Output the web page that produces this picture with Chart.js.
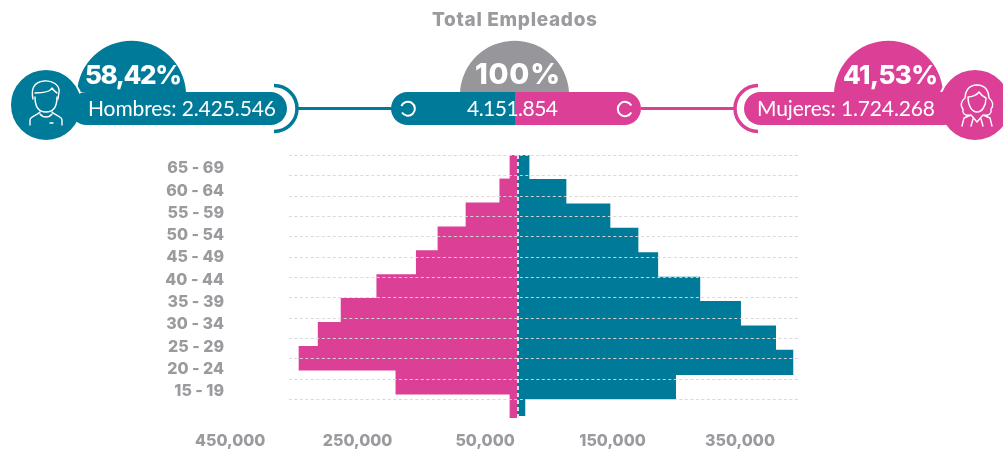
<!DOCTYPE html>
<html>
<head>
<meta charset="utf-8">
<title>Total Empleados</title>
<script src="https://cdn.jsdelivr.net/npm/chart.js@4"></script>
<style>
  html, body { margin: 0; padding: 0; background: #fff; overflow: hidden; }
  #wrap { position: relative; width: 1003px; height: 452px; }
  #header, #chart { position: absolute; left: 0; top: 0; }
  #header text { font-family: Lato, sans-serif; fill: #fff; }
  #header .pct { font-family: Inter, sans-serif; font-weight: 800; font-size: 26px; }
  #header .lbl { font-weight: 400; font-size: 21px; }
  #header .icon { fill: none; stroke: #fff; stroke-width: 1.4; stroke-linecap: round; stroke-linejoin: round; }
</style>
</head>
<body>
<div id="wrap">
  <canvas id="chart" width="1003" height="452"></canvas>
  <svg id="header" width="1003" height="150" viewBox="0 0 1003 150">
    <text x="432" y="26" textLength="165" style="fill:#9b9b9f;font-family:Inter,sans-serif;font-weight:800;font-size:19px">Total Empleados</text>

    <!-- left block -->
    <path d="M77 92 A54.6 54.6 0 0 1 186 92 Z" fill="#007a99"/>
    <circle cx="46" cy="105" r="36" fill="#007a99" stroke="#fff" stroke-width="2"/>
    <rect x="70" y="92" width="217" height="33" rx="16.5" fill="#007a99"/>
    <path d="M274 85.5 A23 23 0 0 1 274 131.5" fill="none" stroke="#007a99" stroke-width="3.5"/>
    <rect x="296" y="107" width="96" height="3" fill="#007a99"/>
    <g class="icon">
      <path d="M35 97 C35 108 40 112 46 112 C52 112 57 108 57 97"/>
      <path d="M33 99 C31 90 33 82 44 81 C52 80 60 85 59 92 L58 99"/>
      <path d="M35 93 C42 93 50 92 52 88 C54 91 56 92 57 93"/>
      <path d="M30 125 L30 120 C30 116 38 115 40 112 M62 125 L62 120 C62 116 54 115 52 112"/>
      <path d="M40 114 C43 118 49 118 52 114 M50 123 h3"/>
    </g>
    <text class="pct" x="85" y="84" textLength="97">58,42%</text>
    <text class="lbl" x="88" y="116" textLength="188">Hombres: 2.425.546</text>

    <!-- centre block -->
    <path d="M460 92 A54.6 54.6 0 0 1 569 92 Z" fill="#97979b"/>
    <path d="M515 92 H407.5 A16.5 16.5 0 0 0 407.5 125 H515 Z" fill="#007a99"/>
    <path d="M515 92 H624.5 A16.5 16.5 0 0 1 624.5 125 H515 Z" fill="#dc3f96"/>
    <path d="M401.4 106 A7 7 0 1 1 402 112.5" fill="none" stroke="#fff" stroke-width="2"/>
    <path d="M631.3 105.5 A7.2 7.2 0 1 0 631.3 112.5" fill="none" stroke="#fff" stroke-width="2"/>
    <text class="pct" x="475" y="84" textLength="85" style="font-size:29px">100%</text>
    <text class="lbl" x="467" y="116" textLength="91">4.151.854</text>

    <!-- right block -->
    <rect x="641" y="107" width="95" height="3" fill="#dc3f96"/>
    <path d="M758 85.5 A23 23 0 0 0 758 131.5" fill="none" stroke="#dc3f96" stroke-width="3.5"/>
    <path d="M834 92 A54.6 54.6 0 0 1 943 92 Z" fill="#dc3f96"/>
    <circle cx="975" cy="105" r="36" fill="#dc3f96" stroke="#fff" stroke-width="2"/>
    <rect x="744" y="92" width="216" height="33" rx="16.5" fill="#dc3f96"/>
    <g class="icon">
      <path d="M977 85 C968 85 965 92 965 98 C961 101 960 106 963 109 C962 113 965 116 969 115"/>
      <path d="M977 85 C986 85 989 92 989 98 C993 101 994 106 991 109 C992 113 989 116 985 115"/>
      <path d="M968 97 C972 97 977 95 979 92 C981 95 984 97 986 98 C986 106 982 112 977 112 C972 112 968 106 968 97"/>
      <path d="M962 126 L964 118 L971 115 L977 122 L983 115 L990 118 L992 126"/>
      <path d="M971 126 L973 119 M983 126 L981 119"/>
    </g>
    <text class="pct" x="843" y="84" textLength="95">41,53%</text>
    <text class="lbl" x="757" y="116" textLength="178">Mujeres: 1.724.268</text>
  </svg>
</div>

<script>
const ageGroups = ["65 - 69", "60 - 64", "55 - 59", "50 - 54", "45 - 49", "40 - 44", "35 - 39", "30 - 34", "25 - 29", "20 - 24", "15 - 19"];
const hombres = [19000, 77000, 146000, 190000, 221000, 287000, 351000, 406000, 433000, 249000, 12500];
const mujeres = [11000, 27000, 80000, 124000, 158000, 220000, 276000, 312000, 342000, 190000, 11000];
const xTickValues = [-450000, -250000, -50000, 150000, 350000];
const gridRows = [0, 1, 2, 3, 4, 5, 6, 7, 8, 9, 10, 11, 12];

const TEAL = "#007a99";
const PINK = "#dc3f96";
const GREY = "#9b9b9f";

// dotted rows and the dashed centre line sit on top of the bars
const overlayLines = {
  id: "overlayLines",
  afterDatasetsDraw(chart) {
    const ctx = chart.ctx;
    const x = chart.scales.x;
    const yGrid = chart.scales.yGrid;
    const left = x.getPixelForValue(-358000);
    const right = x.getPixelForValue(441000);
    ctx.save();
    ctx.strokeStyle = "rgba(215, 215, 215, 0.95)";
    ctx.lineWidth = 1;
    ctx.setLineDash([3, 2.5]);
    gridRows.forEach(function (row) {
      const y = Math.round(yGrid.getPixelForValue(row)) + 0.5;
      ctx.beginPath();
      ctx.moveTo(left, y);
      ctx.lineTo(right, y);
      ctx.stroke();
    });
    const zero = x.getPixelForValue(0) + 1;
    ctx.strokeStyle = "rgba(235, 235, 235, 0.95)";
    ctx.lineWidth = 2;
    ctx.setLineDash([4, 3]);
    ctx.beginPath();
    ctx.moveTo(zero, chart.chartArea.top);
    ctx.lineTo(zero, chart.chartArea.bottom);
    ctx.stroke();
    ctx.restore();
  },
};

const ctx = document.getElementById("chart").getContext("2d");
new Chart(ctx, {
  type: "bar",
  plugins: [overlayLines],
  data: {
    datasets: [
      {
        label: "Mujeres",
        data: mujeres.map(function (v, i) { return { x: -v, y: i }; }),
        backgroundColor: PINK,
        yAxisID: "yMujeres",
        xAxisID: "x",
      },
      {
        label: "Hombres",
        data: hombres.map(function (v, i) { return { x: v, y: i }; }),
        backgroundColor: TEAL,
        yAxisID: "yHombres",
        xAxisID: "x",
        clip: { left: 0, top: 0, right: 0, bottom: -2 },
      },
    ],
  },
  options: {
    indexAxis: "y",
    responsive: false,
    animation: false,
    grouped: false,
    barPercentage: 1,
    categoryPercentage: 1,
    borderWidth: 0,
    layout: { padding: { top: 155, right: 205, left: 0, bottom: 0 } },
    plugins: {
      legend: { display: false },
      tooltip: { enabled: false },
    },
    scales: {
      x: {
        type: "linear",
        min: -455000,
        max: 441000,
        offset: false,
        grid: { display: false, drawTicks: false },
        border: { display: false },
        afterBuildTicks(scale) {
          scale.ticks = xTickValues.map(function (v) { return { value: v }; });
        },
        afterFit(scale) {
          scale.height = 34;
        },
        ticks: {
          autoSkip: false,
          maxRotation: 0,
          padding: 14,
          color: GREY,
          font: { family: "Inter", weight: "800", size: 16 },
          callback(v) {
            return Math.abs(v).toLocaleString("en-US");
          },
        },
      },
      yMujeres: { type: "linear", display: false, offset: false, reverse: true, min: -0.5, max: 10.5 },
      yHombres: { type: "linear", display: false, offset: false, reverse: true, min: -0.5, max: 10.28 },
      yGrid: { type: "linear", display: false, offset: false, reverse: true, min: 0, max: 12.94 },
      yLabels: {
        type: "linear",
        position: "left",
        offset: false,
        reverse: true,
        min: -0.6,
        max: 11.19,
        grid: { display: false, drawTicks: false },
        border: { display: false },
        afterBuildTicks(scale) {
          scale.ticks = ageGroups.map(function (g, i) { return { value: i }; });
        },
        afterFit(scale) {
          scale.width = 227;
        },
        ticks: {
          autoSkip: false,
          padding: 3,
          color: GREY,
          font: { family: "Inter", weight: "800", size: 16 },
          callback(v) {
            return ageGroups[v];
          },
        },
      },
    },
  },
});
</script>
</body>
</html>
